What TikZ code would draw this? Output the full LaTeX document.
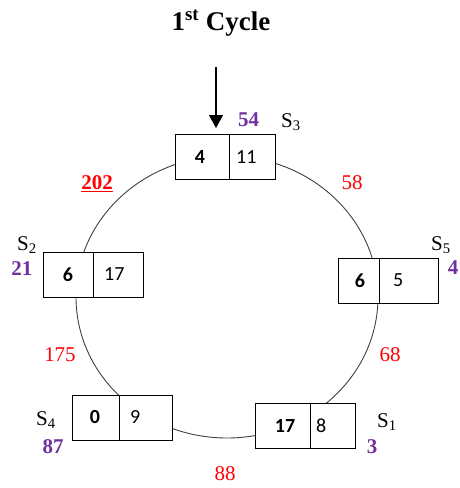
\documentclass[tikz,border=0pt]{standalone}
\usepackage{fontspec}
\setmainfont{Liberation Serif}
\newfontfamily\boxfont{Carlito}
\usetikzlibrary{arrows.meta}
\definecolor{lblpurple}{HTML}{7030A0}
\definecolor{lblred}{HTML}{FF0000}
\tikzset{
  numbox/.style={draw, fill=white, minimum width=100pt, minimum height=45pt, inner sep=0pt, line width=1pt},
  divline/.style={line width=1pt},
  boxnum/.style={font=\boxfont\fontsize{20}{20}\selectfont, inner sep=0pt},
  boxnumb/.style={font=\boxfont\bfseries\fontsize{20}{20}\selectfont, inner sep=0pt},
  slabel/.style={font=\fontsize{21}{21}\selectfont, inner sep=0pt, anchor=base west},
  plabel/.style={font=\bfseries\fontsize{21}{21}\selectfont, text=lblpurple, inner sep=0pt},
  rlabel/.style={font=\fontsize{21}{21}\selectfont, text=lblred, inner sep=0pt},
  ring/.style={draw=black!75, line width=0.9pt},
  titlestyle/.style={font=\bfseries\fontsize{27}{27}\selectfont, inner sep=0pt, anchor=base}
}
\begin{document}
\begin{tikzpicture}[x=1pt,y=-1pt]
\useasboundingbox (0,0) rectangle (459,488);
% title
\node[titlestyle] (title) at (221,30) {1\textsuperscript{st} Cycle};
% ring
\draw[ring] (227,297) ellipse [x radius=151pt, y radius=141pt];
% boxes
\node[numbox] (b3) at (225,157) {};
\draw[divline] ([xshift=4pt]b3.north) -- ([xshift=4pt]b3.south);
\node[numbox] (b2) at (93,274.5) {};
\draw[divline] (b2.north) -- (b2.south);
\node[numbox] (b5) at (388,280.5) {};
\draw[divline] ([xshift=-9pt]b5.north) -- ([xshift=-9pt]b5.south);
\node[numbox] (b4) at (122,417.5) {};
\draw[divline] ([xshift=-3pt]b4.north) -- ([xshift=-3pt]b4.south);
\node[numbox] (b1) at (305.5,425.5) {};
\draw[divline] ([xshift=4.5pt]b1.north) -- ([xshift=4.5pt]b1.south);
% box numbers
\node[boxnumb] (n3a) at (200,157) {4};
\node[boxnum, anchor=west] (n3b) at (236,157) {11};
\node[boxnumb] (n2a) at (68,274.5) {6};
\node[boxnum, anchor=west] (n2b) at (104,274.5) {17};
\node[boxnumb] (n5a) at (360,280.5) {6};
\node[boxnum, anchor=west] (n5b) at (393,280.5) {5};
\node[boxnumb] (n4a) at (95,417.5) {0};
\node[boxnum, anchor=west] (n4b) at (130,417.5) {9};
\node[boxnumb] (n1a) at (285,425.5) {17};
\node[boxnum, anchor=west] (n1b) at (316,425.5) {8};
% arrow
\coordinate (arrtop) at (216,67);
\coordinate (arrtip) at (216,128);
\draw[line width=1.3pt, -{Triangle[width=14pt,length=13pt]}] (arrtop) -- (arrtip);
% S labels
\node[slabel] (s3) at (281,127) {S\textsubscript{3}};
\node[slabel] (s2) at (17,250) {S\textsubscript{2}};
\node[slabel] (s5) at (431,250) {S\textsubscript{5}};
\node[slabel] (s4) at (36,425) {S\textsubscript{4}};
\node[slabel] (s1) at (377,427) {S\textsubscript{1}};
% purple labels
\node[plabel] (p3) at (248.5,120) {54};
\node[plabel] (p2) at (22,269) {21};
\node[plabel] (p5) at (453,268) {4};
\node[plabel] (p4) at (53,447) {87};
\node[plabel] (p1) at (372,447) {3};
% red labels
\node[rlabel, font=\bfseries\fontsize{21}{21}\selectfont] (r202) at (97,184) {\underline{202}};
\node[rlabel] (r58) at (352,183) {58};
\node[rlabel] (r175) at (60,355) {175};
\node[rlabel] (r68) at (390,355) {68};
\node[rlabel] (r88) at (225,474) {88};
\end{tikzpicture}
\end{document}
